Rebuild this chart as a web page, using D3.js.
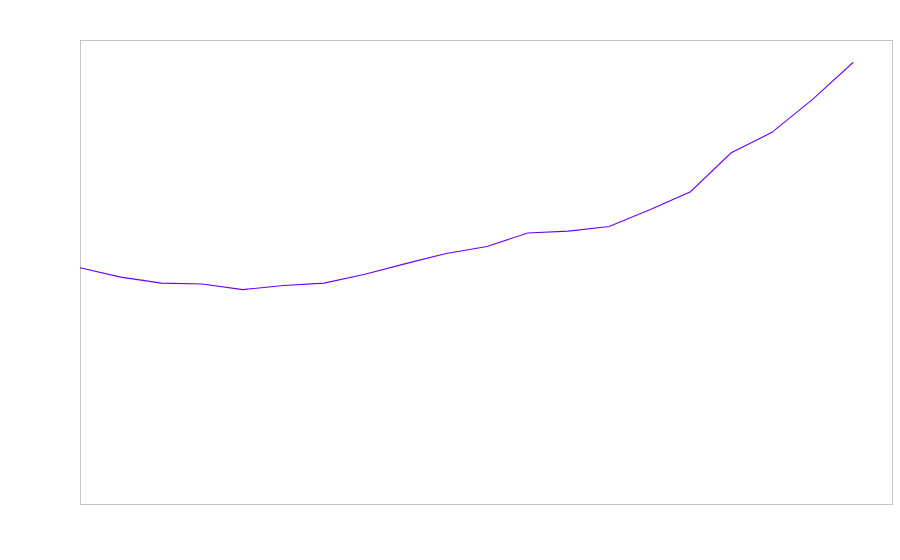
<!DOCTYPE html>
<html>
<head>
<meta charset="utf-8">
<script src="https://cdn.jsdelivr.net/npm/d3@7"></script>
<style>
  body { margin: 0; background: #fff; }
  svg { display: block; }
</style>
</head>
<body>
<div id="chart"></div>
<script>
// index of each point along the x axis
var steps = [0,1,2,3,4,5,6,7,8,9,10,11,12,13,14,15,16,17,18,19];
// values (no axis labels shown, so arbitrary units 0-100)
var values = [50.9,48.9,47.6,47.4,46.2,47.1,47.6,49.5,51.8,54.0,55.5,58.4,58.8,59.8,63.4,67.3,75.7,80.1,87.2,95.2];

var width = 900, height = 560;
var margin = {top: 40, right: 7, bottom: 56, left: 80};

var svg = d3.select("#chart").append("svg")
	.attr("width", width)
	.attr("height", height);

var x = d3.scaleLinear()
	.domain([0, 20])
	.range([margin.left, width - margin.right + 1]);

var y = d3.scaleLinear()
	.domain([0, 100])
	.range([height - margin.bottom, margin.top]);

// plot frame
svg.append("rect")
	.attr("x", margin.left + 0.5)
	.attr("y", margin.top + 0.5)
	.attr("width", width - margin.left - margin.right - 1)
	.attr("height", height - margin.top - margin.bottom)
	.attr("fill", "none")
	.attr("stroke", "#c4c4c4")
	.attr("stroke-width", 1);

var line = d3.line()
	.x(function(d, i) { return x(steps[i]); })
	.y(function(d) { return y(d); });

svg.append("path")
	.datum(values)
	.attr("d", line)
	.attr("fill", "none")
	.attr("stroke", "#6a00ff")
	.attr("stroke-width", 1.1);
</script>
</body>
</html>
